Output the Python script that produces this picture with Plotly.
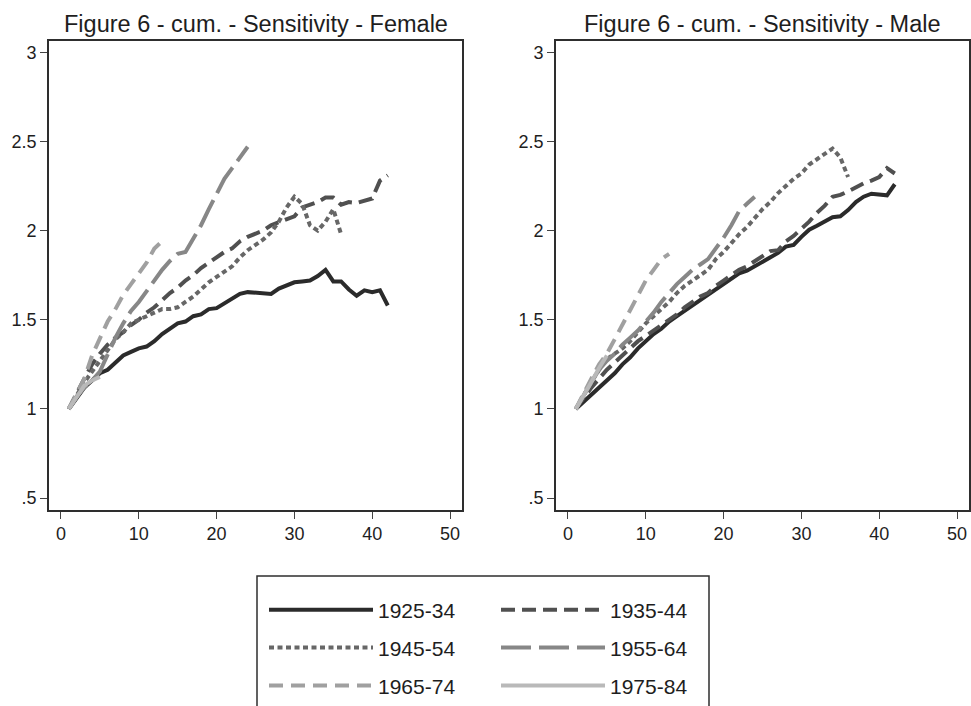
import plotly.graph_objects as go

# ---------------- data ----------------
cohorts = ["1925-34", "1935-44", "1945-54", "1955-64", "1965-74", "1975-84"]

female_1925_34 = [1.00, 1.06, 1.12, 1.16, 1.20, 1.22, 1.26, 1.30, 1.32, 1.34,
                  1.35, 1.38, 1.42, 1.45, 1.48, 1.49, 1.52, 1.53, 1.56, 1.565,
                  1.59, 1.62, 1.645, 1.655, 1.65, 1.648, 1.645, 1.675, 1.69, 1.71,
                  1.715, 1.72, 1.745, 1.78, 1.715, 1.715, 1.67, 1.635, 1.665, 1.655,
                  1.665, 1.58]
female_1935_44 = [1.00, 1.09, 1.17, 1.25, 1.31, 1.36, 1.40, 1.43, 1.47, 1.50,
                  1.54, 1.57, 1.61, 1.65, 1.68, 1.72, 1.75, 1.79, 1.82, 1.85,
                  1.88, 1.90, 1.94, 1.965, 1.98, 2.00, 2.03, 2.045, 2.06, 2.08,
                  2.13, 2.145, 2.16, 2.185, 2.185, 2.145, 2.16, 2.155, 2.17, 2.18,
                  2.28, 2.31]
female_1945_54 = [1.00, 1.08, 1.15, 1.21, 1.27, 1.33, 1.39, 1.43, 1.48, 1.50,
                  1.52, 1.54, 1.56, 1.56, 1.57, 1.60, 1.63, 1.67, 1.71, 1.74,
                  1.77, 1.80, 1.85, 1.89, 1.92, 1.95, 1.99, 2.05, 2.13, 2.19,
                  2.15, 2.03, 2.00, 2.05, 2.12, 1.98]
female_1955_64 = [1.00, 1.07, 1.12, 1.16, 1.21, 1.31, 1.40, 1.48, 1.55, 1.60,
                  1.66, 1.72, 1.78, 1.83, 1.87, 1.88, 1.95, 2.03, 2.12, 2.21,
                  2.29, 2.35, 2.41, 2.47]
female_1965_74 = [1.00, 1.09, 1.17, 1.30, 1.40, 1.49, 1.56, 1.64, 1.70, 1.76,
                  1.82, 1.90, 1.94]
female_1975_84 = [1.00, 1.07, 1.13, 1.16, 1.18]

male_1925_34 = [1.00, 1.04, 1.08, 1.12, 1.16, 1.20, 1.25, 1.29, 1.34, 1.38,
                1.42, 1.45, 1.49, 1.52, 1.55, 1.575, 1.61, 1.635, 1.67, 1.70,
                1.73, 1.76, 1.775, 1.80, 1.83, 1.85, 1.875, 1.91, 1.92, 1.965,
                2.005, 2.027, 2.05, 2.075, 2.08, 2.115, 2.16, 2.19, 2.207, 2.20,
                2.198, 2.26]
male_1935_44 = [1.00, 1.06, 1.12, 1.17, 1.22, 1.26, 1.30, 1.34, 1.38, 1.41,
                1.44, 1.47, 1.50, 1.53, 1.57, 1.60, 1.63, 1.65, 1.69, 1.72,
                1.75, 1.78, 1.80, 1.83, 1.86, 1.885, 1.89, 1.94, 1.97, 2.01,
                2.05, 2.10, 2.14, 2.19, 2.20, 2.22, 2.245, 2.265, 2.28, 2.30,
                2.35, 2.32]
male_1945_54 = [1.00, 1.08, 1.15, 1.22, 1.28, 1.31, 1.34, 1.38, 1.43, 1.48,
                1.52, 1.56, 1.60, 1.65, 1.69, 1.72, 1.75, 1.78, 1.84, 1.88,
                1.93, 1.98, 2.02, 2.07, 2.12, 2.16, 2.21, 2.25, 2.29, 2.32,
                2.37, 2.40, 2.43, 2.46, 2.41, 2.30]
male_1955_64 = [1.00, 1.08, 1.15, 1.22, 1.27, 1.31, 1.36, 1.40, 1.44, 1.49,
                1.54, 1.60, 1.65, 1.70, 1.74, 1.78, 1.81, 1.84, 1.90, 1.96,
                2.03, 2.11, 2.15, 2.19]
male_1965_74 = [1.00, 1.09, 1.17, 1.25, 1.31, 1.39, 1.47, 1.55, 1.64, 1.72,
                1.78, 1.84, 1.87]
male_1975_84 = [1.00, 1.07, 1.15, 1.23, 1.30]

x_tick_vals = [0, 10, 20, 30, 40, 50]
y_tick_vals = [0.5, 1, 1.5, 2, 2.5, 3]
y_tick_text = [".5", "1", "1.5", "2", "2.5", "3"]
panel_titles = ["Figure 6 - cum. - Sensitivity - Female",
                "Figure 6 - cum. - Sensitivity - Male"]

female = [female_1925_34, female_1935_44, female_1945_54,
          female_1955_64, female_1965_74, female_1975_84]
male = [male_1925_34, male_1935_44, male_1945_54,
        male_1955_64, male_1965_74, male_1975_84]

# ---------------- styles ----------------
colors = ["#2b2b2b", "#505050", "#676767", "#878787", "#a0a0a0", "#b9b9b9"]
dashes = ["solid", "14px,7px", "5px,3.5px", "30px,8px", "14px,8px", "solid"]
legend_of = ["legend", "legend2", "legend", "legend2", "legend", "legend2"]

W, H = 971, 706
FONT = "Liberation Sans, Arial, Helvetica, sans-serif"
TXT = "#1e1e1e"

fig = go.Figure()

for panel, (series_set, xa, ya) in enumerate([(female, "x", "y"), (male, "x2", "y2")]):
    for i, ys in enumerate(series_set):
        fig.add_trace(go.Scatter(
            x=list(range(1, len(ys) + 1)), y=ys,
            mode="lines", name=cohorts[i],
            line=dict(color=colors[i], width=4, dash=dashes[i]),
            xaxis=xa, yaxis=ya,
            legendgroup=cohorts[i], legend=legend_of[i],
            showlegend=(panel == 0), hoverinfo="skip",
        ))

def xdom(a, b):
    return [a / W, b / W]

ydom = [1 - 518 / H, 1 - 42 / H]

axis_common = dict(showgrid=False, zeroline=False, showline=True,
                   linecolor="#2e2e2e", linewidth=1.6, mirror=True,
                   ticks="outside", ticklen=7, tickwidth=1.3, tickcolor="#444",
                   tickfont=dict(size=18, color=TXT, family=FONT))

xr = [-1.54, 51.54]
yr = [0.434, 3.061]

legend_common = dict(yanchor="top", xanchor="left", bgcolor="rgba(0,0,0,0)",
                     borderwidth=0, font=dict(size=21, color=TXT, family=FONT),
                     itemwidth=104, tracegroupgap=7.5, traceorder="grouped")

fig.update_layout(
    width=W, height=H,
    margin=dict(l=0, r=0, t=0, b=0),
    paper_bgcolor="white", plot_bgcolor="white",
    font=dict(family=FONT, color=TXT),
    xaxis=dict(domain=xdom(49, 462), range=xr, tickvals=x_tick_vals, anchor="y", **axis_common),
    yaxis=dict(domain=ydom, range=yr, tickvals=y_tick_vals, ticktext=y_tick_text, anchor="x", **axis_common),
    xaxis2=dict(domain=xdom(556, 969), range=xr, tickvals=x_tick_vals, anchor="y2", **axis_common),
    yaxis2=dict(domain=ydom, range=yr, tickvals=y_tick_vals, ticktext=y_tick_text, anchor="x2", **axis_common),
    legend=dict(x=264 / W, y=1 - 599 / H, **legend_common),
    legend2=dict(x=496 / W, y=1 - 599 / H, **legend_common),
    shapes=[dict(type="rect", xref="paper", yref="paper",
                 x0=257 / W, x1=709 / W, y0=1 - 585 / H, y1=-0.05,
                 line=dict(color="#2e2e2e", width=1.5), fillcolor="rgba(0,0,0,0)")],
    annotations=[
        dict(text=panel_titles[0], x=(49 + 462) / 2 / W, y=1 - 24 / H,
             xref="paper", yref="paper", xanchor="center", yanchor="middle",
             showarrow=False, font=dict(size=23.5, color=TXT, family=FONT)),
        dict(text=panel_titles[1], x=(556 + 969) / 2 / W, y=1 - 24 / H,
             xref="paper", yref="paper", xanchor="center", yanchor="middle",
             showarrow=False, font=dict(size=23.5, color=TXT, family=FONT)),
    ],
)

fig.write_html("out.html", config={"displayModeBar": False})
